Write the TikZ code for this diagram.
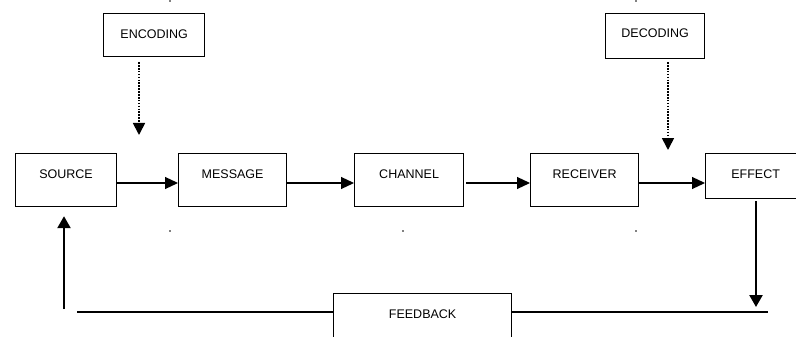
\documentclass[tikz,border=0pt]{standalone}
\usepackage{fontspec}
\setmainfont{Liberation Sans}
\usetikzlibrary{arrows.meta}
\begin{document}
\begin{tikzpicture}[x=1pt,y=-1pt,
  box/.style={draw, line width=1.2pt, inner sep=0pt, anchor=north west,
    font=\fontsize{12.5}{14}\selectfont},
  thinarr/.style={line width=1.2pt, -{Triangle[length=13pt,width=12pt]}},
  dotarr/.style={line width=1.7pt, dash pattern=on 1.6pt off 1.3pt, -{Triangle[length=12pt,width=12pt]}},
  thickarr/.style={line width=2.4pt, -{Triangle[length=12pt,width=13pt]}},
  speck/.style={fill=black}]
\path[use as bounding box] (0,0) rectangle (796,337);
\clip (0,0) rectangle (796,337);
\fill[white] (0,0) rectangle (796,337);

% boxes
\node[box, minimum width=101pt, text height=24.5pt, text depth=18.5pt] (enc) at (103,13) {ENCODING};
\node[box, minimum width=99pt, text height=23.5pt, text depth=21.5pt] (dec) at (605,13) {DECODING};
\node[box, minimum width=101pt, text height=24.7pt, text depth=28.3pt] (src) at (15,153) {SOURCE};
\node[box, minimum width=108pt, text height=24.7pt, text depth=28.3pt] (msg) at (178,153) {MESSAGE};
\node[box, minimum width=109pt, text height=24.7pt, text depth=28.3pt] (chn) at (354,153) {CHANNEL};
\node[box, minimum width=108pt, text height=24.7pt, text depth=28.3pt] (rcv) at (530,153) {RECEIVER};
\node[box, minimum width=100pt, text height=24.7pt, text depth=20.3pt] (eff) at (705,153) {EFFECT};
\node[box, minimum width=178pt, text height=25pt, text depth=30pt] (fb) at (333,293) {FEEDBACK};

% main row
\coordinate (row) at (0,183);
\draw[thinarr] (src.east |- row) -- (msg.west |- row);
\draw[thinarr] (msg.east |- row) -- (chn.west |- row);
\draw[thinarr] ([xshift=2pt]chn.east |- row) -- (rcv.west |- row);
\draw[thinarr] (rcv.east |- row) -- (eff.west |- row);

% encoding / decoding
\coordinate (enctip) at (139,135);
\coordinate (dectip) at (668,150);
\draw[dotarr] ([yshift=-5pt]enctip |- enc.south) -- (enctip);
\draw[dotarr] ([yshift=-3pt]dectip |- dec.south) -- (dectip);

% feedback loop
\coordinate (fbrow) at (0,312);
\coordinate (effdown) at (756,307);
\coordinate (rend) at (768,312);
\coordinate (lend) at (77,312);
\coordinate (uptail) at (64,309);
\draw[thickarr] ([yshift=-2pt]effdown |- eff.south) -- (effdown);
\draw[line width=2.4pt] (fb.east |- fbrow) -- (rend);
\draw[line width=1.3pt] (fb.west |- fbrow) -- (lend);
\draw[thickarr] (uptail) -- ([yshift=-9pt]uptail |- src.south);

% specks
\fill[speck] (170,1) circle (0.8pt);
\fill[speck] (636,1) circle (0.8pt);
\fill[speck] (170,231) circle (0.8pt);
\fill[speck] (403,231) circle (0.8pt);
\fill[speck] (636,231) circle (0.8pt);
\end{tikzpicture}
\end{document}
